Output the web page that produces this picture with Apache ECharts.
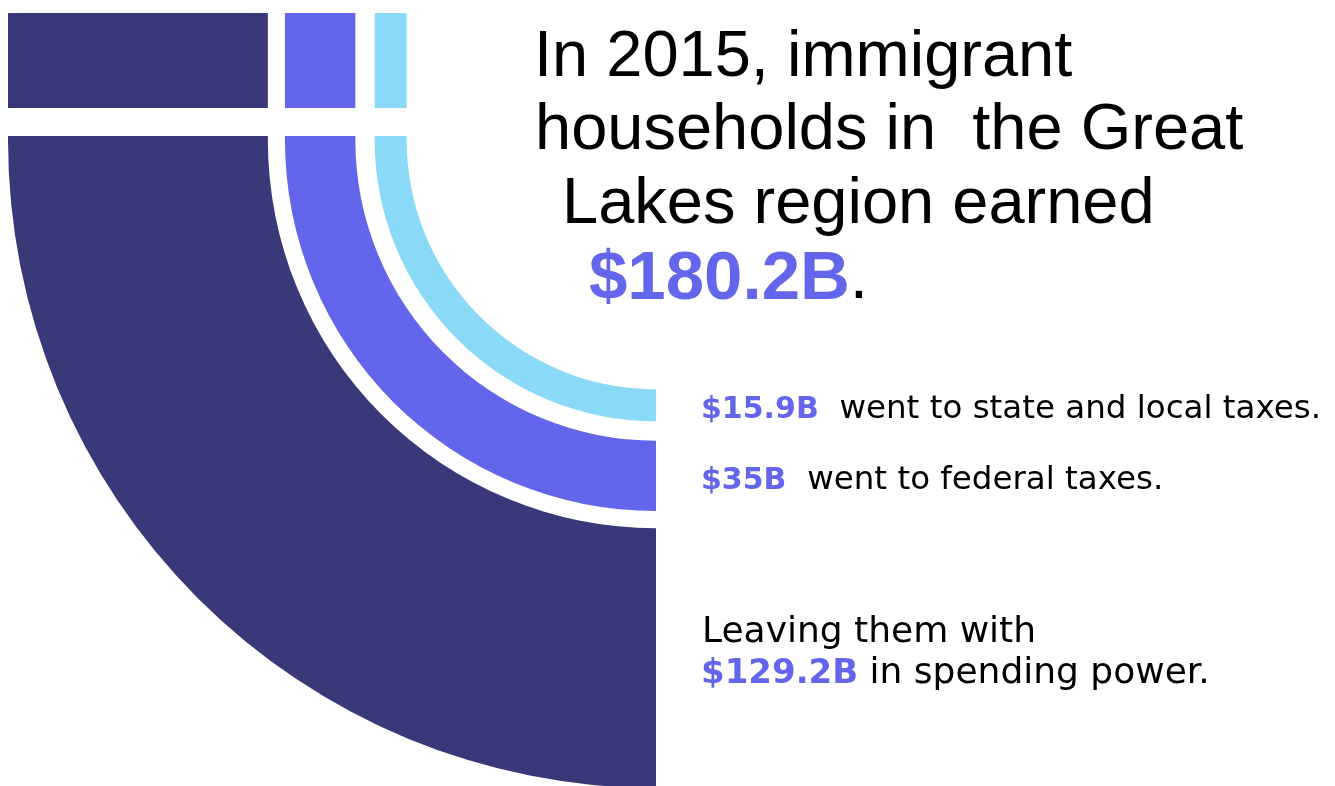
<!DOCTYPE html>
<html>
<head>
<meta charset="utf-8">
<script src="https://cdn.jsdelivr.net/npm/echarts@6/dist/echarts.min.js"></script>
<style>
  html, body { margin: 0; padding: 0; background: #fff; }
  #chart { width: 1335px; height: 786px; }
</style>
</head>
<body>
<div id="chart"></div>
<script>
// billions of dollars, inner band first
const bandNames = ['State and local taxes', 'Federal taxes', 'Spending power'];
const bandValues = [15.9, 35, 129.2];
const totalEarned = 180.2;
const bandColors = ['#8ad9f7', '#6366eb', '#39397a'];

const titleLines = ['In 2015, immigrant', 'households in  the Great', 'Lakes region earned'];
const bandTexts = ['went to state and local taxes.', 'went to federal taxes.', 'in spending power.'];

// layout in value units: empty hole in the middle and gaps between bands
const HOLE = 124;
const GAPS = [0, 9.6, 8.5];

const starts = [];
let acc = HOLE;
bandValues.forEach((v, i) => {
  acc += GAPS[i];
  starts.push(acc);
  acc += v;
});
const axisMax = acc;

const purple = '#6366eb';
const titleFont = "'Liberation Sans', Arial, sans-serif";
const bodyFont = "'DejaVu Sans', sans-serif";

function renderBand(params, api) {
  const i = api.value(0);
  const cs = params.coordSys;
  const cx = api.coord([0, 0])[0];
  const xIn = api.coord([starts[i], 0])[0];
  const xOut = api.coord([starts[i] + bandValues[i], 0])[0];
  const cy = cs.y + 127;
  const color = api.visual('color');
  return {
    type: 'group',
    children: [
      { type: 'rect', shape: { x: xOut, y: cs.y, width: xIn - xOut, height: 95 }, style: { fill: color } },
      { type: 'rect', shape: { x: xOut, y: cy - 4, width: xIn - xOut, height: 5 }, style: { fill: color } },
      {
        type: 'sector',
        shape: { cx: cx, cy: cy, r0: cx - xIn, r: cx - xOut, startAngle: Math.PI / 2, endAngle: Math.PI, clockwise: true },
        style: { fill: color }
      }
    ]
  };
}

function money(v) {
  return '$' + v + 'B';
}

const graphics = [];
const titleX = [534, 535, 562];
const titleY = [58, 131, 205];
titleLines.forEach((line, i) => {
  graphics.push({
    type: 'text', x: titleX[i], y: titleY[i],
    style: { text: line, fontFamily: titleFont, fontSize: 65, fill: '#000', verticalAlign: 'middle' }
  });
});
graphics.push({
  type: 'text', x: 589, y: 280,
  style: {
    text: '{v|' + money(totalEarned) + '}{p|.}',
    verticalAlign: 'middle',
    rich: {
      v: { fontFamily: titleFont, fontSize: 69, fontWeight: 'bold', fill: purple },
      p: { fontFamily: titleFont, fontSize: 66, fill: '#000' }
    }
  }
});

// tax lines
const taxY = [410, 481];
[0, 1].forEach((i) => {
  graphics.push({
    type: 'text', x: 701, y: taxY[i],
    style: {
      text: '{v|' + money(bandValues[i]) + '}{t|  ' + bandTexts[i] + '}',
      verticalAlign: 'middle',
      rich: {
        v: { fontFamily: bodyFont, fontSize: 30, fontWeight: 'bold', fill: purple },
        t: { fontFamily: bodyFont, fontSize: 32.5, fill: '#000' }
      }
    }
  });
});
graphics.push({
  type: 'text', x: 702, y: 633,
  style: { text: 'Leaving them with', fontFamily: bodyFont, fontSize: 36, fill: '#000', verticalAlign: 'middle' }
});
graphics.push({
  type: 'text', x: 701, y: 674,
  style: {
    text: '{v|' + money(bandValues[2]) + '}{t| ' + bandTexts[2] + '}',
    verticalAlign: 'middle',
    rich: {
      v: { fontFamily: bodyFont, fontSize: 34, fontWeight: 'bold', fill: purple },
      t: { fontFamily: bodyFont, fontSize: 36, fill: '#000' }
    }
  }
});

const option = {
  animation: false,
  backgroundColor: '#fff',
  grid: { left: 8, right: 679, top: 13, bottom: 0 },
  xAxis: { type: 'value', inverse: true, min: 0, max: axisMax, show: false },
  yAxis: { type: 'value', min: 0, max: 200, show: false },
  series: [{
    type: 'custom',
    clip: false,
    renderItem: renderBand,
    data: bandValues.map((v, i) => ({ name: bandNames[i], value: [i, v], itemStyle: { color: bandColors[i] } }))
  }],
  graphic: graphics
};

const chart = echarts.init(document.getElementById('chart'));
chart.setOption(option);
</script>
</body>
</html>
